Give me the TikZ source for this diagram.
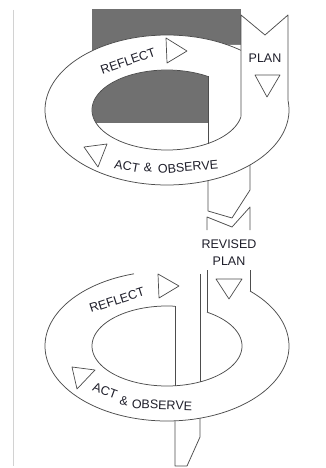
\documentclass[tikz,border=0pt]{standalone}
\usepackage{fontspec}
\setmainfont{Liberation Sans}
\definecolor{ln}{HTML}{4D4D4D}
\definecolor{grayfill}{HTML}{707070}
\definecolor{txt}{HTML}{1E1E2A}
\begin{document}
\begin{tikzpicture}[x=1pt,y=-1pt, line join=round,
  outl/.style={draw=ln, line width=0.75pt},
  tri/.style={draw=ln, line width=0.7pt, fill=white},
  lbl/.style={font=\fontsize{12.5}{14}\selectfont, text=txt, inner sep=0pt}]
\fill[white] (0,0) rectangle (325,468);
\useasboundingbox (0,0) rectangle (325,468);
\draw[gray!35, line width=0.8pt] (13.5,10) -- (13.5,466);
% gray block behind upper ring
\fill[grayfill] (92,9) rectangle (241,123);
% white body of upper ring and its descending strip
\fill[white, even odd rule] (167,110) ellipse [x radius=122pt, y radius=75pt]
                            (167,110) ellipse [x radius=75pt, y radius=40pt];
\fill[white] (208,45) -- (208,211) -- (232,218) -- (250,190) -- (250,160) -- (241,140) -- (241,45) -- cycle;
% ---- upper ring outlines
\draw[outl] plot[domain=-7.3:307.3, samples=160] ({167+122*cos(\x)},{110+75*sin(\x)});
\draw[outl] plot[domain=9.4:303.1, samples=160] ({167+75*cos(\x)},{110+40*sin(\x)});
\draw[outl] (241,116.5) -- (241,15) -- (265,35) -- (288,15) -- (288,100.5);
\draw[outl] (208,76.5) -- (208,143.5);
\draw[outl] (208,180.6) -- (208,211) -- (232,218) -- (250,190) -- (250,165);
% ---- lower ring outlines
\draw[outl] plot[domain=-47.1:254.3, samples=160] ({167+122*cos(\x)},{346+75*sin(\x)});
\draw[outl] plot[domain=-57.8:276.1, samples=160] ({167+75*cos(\x)},{346+40*sin(\x)});
\draw[outl] (207,230) -- (207,217) -- (232,227) -- (250,207) -- (250,230);
\draw[outl] (207,270) -- (207,312);
\draw[outl] (250,270) -- (250,291);
\draw[outl] (175,306.2) -- (175,385.8);
\draw[outl] (200,273.8) -- (200,381.9);
\draw[outl] (175,420.8) -- (175,466) -- (187,466) -- (200,437) -- (200,418.2);
% ---- triangles
\draw[tri] (166,38) -- (167,63) -- (187,51) -- cycle;
\draw[tri] (255,75) -- (280,75) -- (267,97) -- cycle;
\draw[tri] (84,147) -- (107,144) -- (98,167) -- cycle;
\draw[tri] (158,274) -- (159,298) -- (179,286) -- cycle;
\draw[tri] (216,279) -- (242,279) -- (229,299) -- cycle;
\draw[tri] (72,367) -- (95,370) -- (77,389) -- cycle;
% ---- labels
\node[lbl] (plan) at (265,58) {PLAN};
\node[lbl] (rev) at (229,244) {REVISED};
\node[lbl] (rplan) at (229,261) {PLAN};
\node[lbl, rotate=19] (refla) at (128,61) {REFLECT};
\node[lbl, rotate=-10] (acta) at (127,166) {ACT};
\node[lbl, rotate=-4] (ampa) at (148,168) {\&};
\node[lbl, rotate=5] (obsa) at (188,167) {OBSERVE};
\node[lbl, rotate=18] (reflb) at (117,300) {REFLECT};
\node[lbl, rotate=-20] (actb) at (105,391) {ACT};
\node[lbl, rotate=-10] (ampb) at (124,401) {\&};
\node[lbl, rotate=-2] (obsb) at (162,405) {OBSERVE};
\end{tikzpicture}
\end{document}
